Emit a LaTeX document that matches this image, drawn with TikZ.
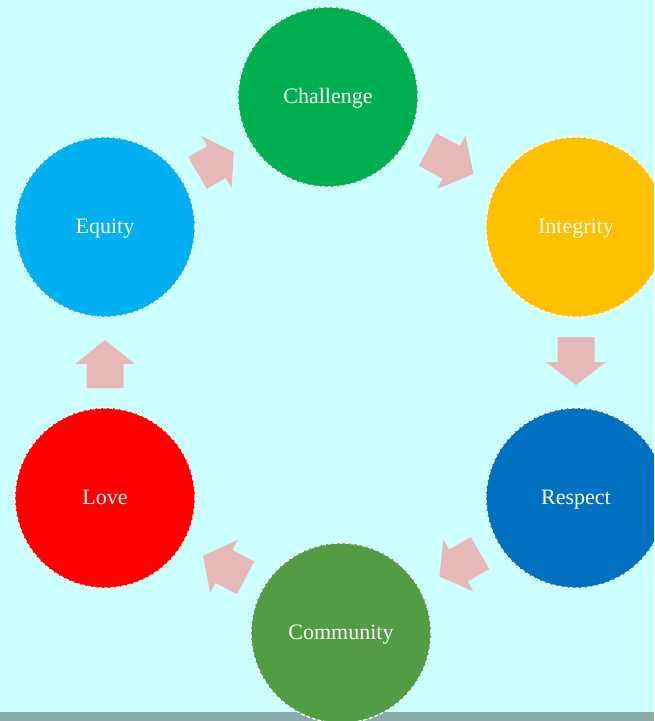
\documentclass[tikz,border=0pt]{standalone}
\usepackage{fontspec}
\setmainfont{Liberation Serif}
\definecolor{bgc}{HTML}{CCFFFF}
\definecolor{barc}{HTML}{8AABAB}
\definecolor{arrc}{HTML}{E6B9B8}
\definecolor{cChallenge}{HTML}{00B050}
\definecolor{cIntegrity}{HTML}{FFC000}
\definecolor{cRespect}{HTML}{0070C0}
\definecolor{cCommunity}{HTML}{529C44}
\definecolor{cLove}{HTML}{FF0000}
\definecolor{cEquity}{HTML}{00B0F0}
% \blkarrow{x}{y}{angle}{length}{head length}{name}
\newcommand\blkarrow[6]{%
  \path[fill=arrc, shift={(#1,#2)}, rotate=#3]
    (-#4/2,-18.5) -- (#4/2-#5,-18.5) -- (#4/2-#5,-30) -- (#4/2,0)
    -- (#4/2-#5,30) -- (#4/2-#5,18.5) -- (-#4/2,18.5) -- cycle;
  \coordinate (#6) at (#1,#2);}
\begin{document}
\begin{tikzpicture}[x=1pt,y=-1pt,
  valuecircle/.style={circle, minimum size=180pt, inner sep=0pt,
    draw=white, line width=1.3pt, dash pattern=on 4pt off 1.8pt,
    text=white, font=\fontsize{22}{26}\selectfont,
    text height=15pt, text depth=3pt}]
\useasboundingbox (0,0) rectangle (654,721);
\clip (0,0) rectangle (654,721);
\fill[bgc] (0,0) rectangle (654,721);
\fill[barc] (0,712) rectangle (654,721);
\node[valuecircle, fill=cChallenge] (challenge) at (328,97) {Challenge};
\node[valuecircle, fill=cIntegrity] (integrity) at (576,227) {Integrity};
\node[valuecircle, fill=cRespect] (respect) at (576,498) {Respect};
\node[valuecircle, fill=cCommunity] (community) at (341,633) {Community};
\node[valuecircle, fill=cLove] (love) at (105,498) {Love};
\node[valuecircle, fill=cEquity] (equity) at (105,227) {Equity};
\blkarrow{215.7}{162.5}{30}{42}{20}{a1}
\blkarrow{450.5}{161.8}{-28}{52}{25}{a2}
\blkarrow{576}{361}{-90}{48}{23}{a3}
\blkarrow{459.7}{564.7}{210}{47}{22}{a4}
\blkarrow{224.4}{566.7}{152.5}{48}{23.5}{a5}
\blkarrow{105}{364}{90}{48}{24}{a6}
\end{tikzpicture}
\end{document}
